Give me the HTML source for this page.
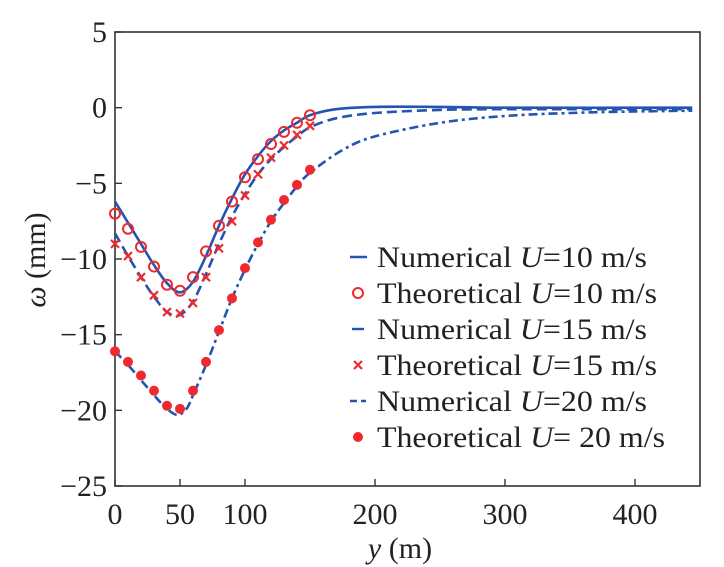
<!DOCTYPE html>
<html><head><meta charset="utf-8"><style>
body{margin:0;background:#fff}
svg{display:block;font-family:"Liberation Serif",serif}
</style></head><body>
<svg id="chart" width="724" height="567" viewBox="0 0 724 567" xmlns="http://www.w3.org/2000/svg"></svg>
<script>
const xTicks=[0,50,100,200,300,400];
const yTicks=[5,0,-5,-10,-15,-20,-25];
const theoX=[0,10,20,30,40,50,60,70,80,90,100,110,120,130,140,150];
const theo10=[-7.0,-8.0,-9.2,-10.5,-11.7,-12.1,-11.2,-9.5,-7.8,-6.2,-4.6,-3.4,-2.4,-1.6,-1.0,-0.5];
const theo15=[-9.0,-9.8,-11.2,-12.4,-13.5,-13.6,-12.9,-11.2,-9.3,-7.5,-5.8,-4.4,-3.3,-2.5,-1.8,-1.2];
const theo20=[-16.1,-16.8,-17.7,-18.7,-19.7,-19.9,-18.7,-16.8,-14.7,-12.6,-10.6,-8.9,-7.4,-6.1,-5.1,-4.1];
const num10X=[0,10,20,30,40,50,60,70,80,90,100,110,120,130,140,150,170,200,250,300,444];
const num10=[-6.2,-7.6,-9.0,-10.4,-11.6,-12.2,-11.5,-9.8,-7.8,-6.0,-4.4,-3.2,-2.2,-1.5,-1.0,-0.5,-0.1,0.05,0.05,0,0];
const num15X=[0,10,20,30,40,50,60,70,80,90,100,110,120,130,140,150,170,200,250,300,444];
const num15=[-8.3,-9.8,-11.2,-12.5,-13.5,-13.7,-12.8,-11.0,-9.0,-7.2,-5.7,-4.4,-3.4,-2.6,-1.9,-1.3,-0.7,-0.35,-0.15,-0.1,-0.1];
const num20X=[0,10,20,30,40,48,55,60,70,80,90,100,110,120,130,140,150,175,200,250,300,350,400,444];
const num20=[-16.1,-17.0,-18.0,-19.0,-19.9,-20.3,-19.9,-19.0,-17.0,-14.8,-12.6,-10.7,-9.0,-7.5,-6.3,-5.2,-4.3,-2.8,-1.9,-1.0,-0.55,-0.35,-0.25,-0.2];
const legendLabels=["Numerical ","Theoretical ","Numerical ","Theoretical ","Numerical ","Theoretical "];
const legendSpeeds=["=10 m/s","=10 m/s","=15 m/s","=15 m/s","=20 m/s","= 20 m/s"];

const L=115,R=700,T=32,B=486;
const sx=v=>L+v*(R-L)/450;
const sy=v=>T+(5-v)*(B-T)/30;
const svg=document.getElementById('chart');
const NS='http://www.w3.org/2000/svg';
function mk(tag,attrs,parent){const e=document.createElementNS(NS,tag);for(const k in attrs)e.setAttribute(k,attrs[k]);(parent||svg).appendChild(e);return e;}
const BLUE='#2453b0',RED='#ee2a2f';

const frame=mk('rect',{x:L,y:T,width:R-L,height:B-T,fill:'none',stroke:'#333','stroke-width':1.6});



xTicks.forEach(v=>{
  const t=mk('line',{x1:sx(v),x2:sx(v),y1:B,y2:B-7,stroke:'#333','stroke-width':1.4});
  
  
  const tx=mk('text',{x:sx(v),y:B+38,'font-size':30,'text-anchor':'middle',fill:'#222'});
  tx.textContent=v;
  
  
});
yTicks.forEach(v=>{
  const t=mk('line',{x1:L,x2:L+7,y1:sy(v),y2:sy(v),stroke:'#333','stroke-width':1.4});
  
  
  const tx=mk('text',{x:L-8,y:sy(v)+10,'font-size':30,'text-anchor':'end',fill:'#222'});
  tx.textContent=(v<0?'\u2212'+(-v):v);
  
  
});
const xl=mk('text',{x:400,y:558,'font-size':30,'text-anchor':'middle',fill:'#222'});
xl.innerHTML='<tspan font-style="italic">y</tspan> (m)';


const yl=mk('text',{x:0,y:0,'font-size':30,'text-anchor':'middle',fill:'#222',transform:'translate(45,260) rotate(-90)'});
yl.innerHTML='<tspan font-style="italic">ω</tspan> (mm)';



function line(xs,ys,dash,name){
  const P=xs.map((x,i)=>[sx(x),sy(ys[i])]);
  let d='M'+P[0][0].toFixed(1)+','+P[0][1].toFixed(1);
  for(let i=0;i<P.length-1;i++){
    const p0=P[Math.max(0,i-1)],p1=P[i],p2=P[i+1],p3=P[Math.min(P.length-1,i+2)];
    const c1=[p1[0]+(p2[0]-p0[0])/6,p1[1]+(p2[1]-p0[1])/6];
    const c2=[p2[0]-(p3[0]-p1[0])/6,p2[1]-(p3[1]-p1[1])/6];
    d+=`C${c1[0].toFixed(1)},${c1[1].toFixed(1)} ${c2[0].toFixed(1)},${c2[1].toFixed(1)} ${p2[0].toFixed(1)},${p2[1].toFixed(1)}`;
  }
  const p=mk('path',{d:d,fill:'none',stroke:BLUE,'stroke-width':2.6,'stroke-dasharray':dash});
  
  
}
line(num10X,num10,'none','numerical-u10-line');
line(num15X,num15,'10,5','numerical-u15-line');
line(num20X,num20,'9,4,3,4','numerical-u20-line');

function circ(x,y){const c=mk('circle',{cx:x,cy:y,r:5,fill:'none',stroke:RED,'stroke-width':2});}
function cross(x,y){const c=mk('path',{d:`M${x-4},${y-4}L${x+4},${y+4}M${x-4},${y+4}L${x+4},${y-4}`,stroke:RED,'stroke-width':2.2});}
function dot(x,y){const c=mk('circle',{cx:x,cy:y,r:5,fill:RED});}
theoX.forEach((x,i)=>{circ(sx(x),sy(theo10[i]));cross(sx(x),sy(theo15[i]));dot(sx(x),sy(theo20[i]));});

const rows=[257,293,329,365,401,437];
const widths=[270,280,270,280,270,288];
rows.forEach((y,i)=>{
  const mx=358;
  if(i===0){const l=mk('line',{x1:350,x2:367,y1:y,y2:y,stroke:BLUE,'stroke-width':2.4});}
  if(i===2){const l=mk('line',{x1:352,x2:364,y1:y,y2:y,stroke:BLUE,'stroke-width':2.4});}
  if(i===4){const l=mk('path',{d:`M350,${y}L357,${y}M361,${y}L366,${y}`,stroke:BLUE,'stroke-width':2.4});}
  if(i===1)circ(mx,y);
  if(i===3)cross(mx,y);
  if(i===5)dot(mx,y);
  const t=mk('text',{x:377,y:y+10,'font-size':30,fill:'#222',textLength:widths[i],lengthAdjust:'spacingAndGlyphs'});
  t.innerHTML=legendLabels[i]+'<tspan font-style="italic">U</tspan>'+legendSpeeds[i];
  
  
});
</script>
</body></html>
